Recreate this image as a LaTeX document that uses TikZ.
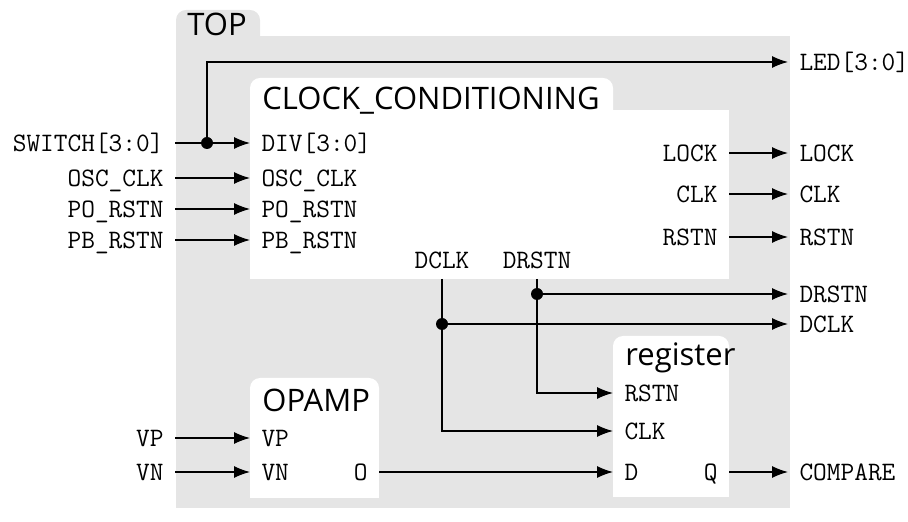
\documentclass[tikz,border=0pt]{standalone}
\usepackage{fontspec}
\newfontfamily\titlefont{Open Sans}
\usetikzlibrary{arrows.meta}
\definecolor{topgray}{RGB}{229,229,229}
\begin{document}
\begin{tikzpicture}[x=0.5pt,y=-0.5pt,
  port/.style={font=\fontsize{13.3}{16}\selectfont\ttfamily, inner sep=0pt, outer xsep=5.75pt, outer ysep=0pt, text height=8.2pt, text depth=0pt},
  lport/.style={port, anchor=west},
  rport/.style={port, anchor=east},
  cport/.style={port, anchor=center},
  title/.style={font=\titlefont\fontsize{15.5}{18}\selectfont, inner sep=0pt, anchor=base west},
  wire/.style={line width=0.6pt},
  arr/.style={wire, -{Latex[length=8pt,width=6pt]}},
  dot/.style={circle, fill, inner sep=0pt, minimum size=6pt}]
\useasboundingbox (0,0) rectangle (908,522);
% TOP block
\fill[topgray, rounded corners=5pt] (176,10) rectangle (260,60);
\fill[topgray] (176,36) rectangle (790,508);
\node[title] (ttop) at (187,36) {TOP};
% CLOCK_CONDITIONING block
\fill[white, rounded corners=5pt] (250,78) rectangle (613,130);
\fill[white] (250,110) rectangle (729,279);
\coordinate (ccb) at (250,279);
\node[title] (tcc) at (262,110) {CLOCK\_CONDITIONING};
% register block
\fill[white, rounded corners=5pt] (613,336) rectangle (729,370);
\fill[white] (613,350) rectangle (729,497);
\node[title] (treg) at (625,366) {register};
% OPAMP block
\fill[white, rounded corners=5pt] (250,378) rectangle (379,410);
\fill[white] (250,395) rectangle (379,498);
\node[title] (top) at (262,412) {OPAMP};

% CC ports
\node[lport] (cdiv) at (250,143) {DIV[3:0]};
\node[lport] (cosc) at (250,178) {OSC\_CLK};
\node[lport] (cpo) at (250,209) {PO\_RSTN};
\node[lport] (cpb) at (250,240) {PB\_RSTN};
\node[rport] (clock) at (729,153) {LOCK};
\node[rport] (cclk) at (729,194) {CLK};
\node[rport] (crstn) at (729,237) {RSTN};
\node[cport] (cdclk) at (442,260) {DCLK};
\node[cport] (cdrstn) at (537,260) {DRSTN};
% register ports
\node[lport] (rrstn) at (613,393) {RSTN};
\node[lport] (rclk) at (613,431) {CLK};
\node[lport] (rd) at (613,472) {D};
\node[rport] (rq) at (729,472) {Q};
% OPAMP ports
\node[lport] (ovp) at (250,438) {VP};
\node[lport] (ovn) at (250,472) {VN};
\node[rport] (oo) at (379,472) {O};

% external inputs
\node[rport] (xsw) at (175,143) {SWITCH[3:0]};
\node[rport] (xosc) at (175,178) {OSC\_CLK};
\node[rport] (xpo) at (175,209) {PO\_RSTN};
\node[rport] (xpb) at (175,240) {PB\_RSTN};
\node[rport] (xvp) at (175,438) {VP};
\node[rport] (xvn) at (175,472) {VN};
% external outputs
\node[lport] (yled) at (788,62) {LED[3:0]};
\node[lport] (ylock) at (788,153) {LOCK};
\node[lport] (yclk) at (788,194) {CLK};
\node[lport] (yrstn) at (788,237) {RSTN};
\node[lport] (ydrstn) at (788,294) {DRSTN};
\node[lport] (ydclk) at (788,324) {DCLK};
\node[lport] (ycmp) at (788,472) {COMPARE};

% wires
\draw[arr] (xsw) -- (cdiv);
\draw[arr] (xosc) -- (cosc);
\draw[arr] (xpo) -- (cpo);
\draw[arr] (xpb) -- (cpb);
\draw[arr] (xvp) -- (ovp);
\draw[arr] (xvn) -- (ovn);
\draw[arr] (clock) -- (ylock);
\draw[arr] (cclk) -- (yclk);
\draw[arr] (crstn) -- (yrstn);
\draw[arr] (oo) -- (rd);
\draw[arr] (rq) -- (ycmp);
\node[dot] (dsw) at (207,143) {};
\draw[arr] (dsw.center) |- (yled);
\draw[arr] (cdclk |- ccb) |- (rclk);
\draw[arr] (cdrstn |- ccb) |- (rrstn);
\node[dot] (ddclk) at (cdclk |- ydclk) {};
\node[dot] (ddrstn) at (cdrstn |- ydrstn) {};
\draw[arr] (ddclk.center) -- (ydclk);
\draw[arr] (ddrstn.center) -- (ydrstn);
\end{tikzpicture}
\end{document}
